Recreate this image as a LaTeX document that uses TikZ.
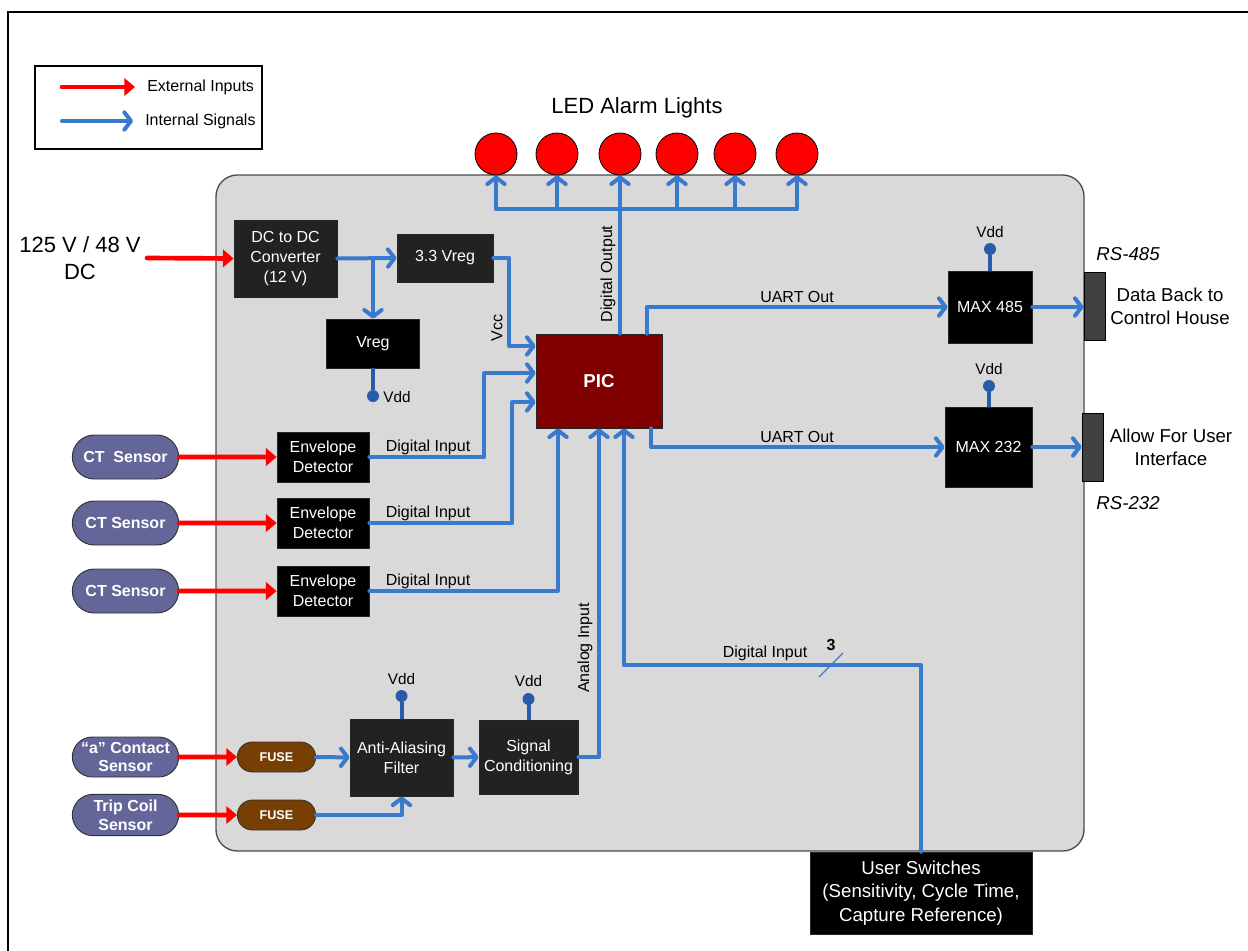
\documentclass[tikz,border=0pt]{standalone}
\usepackage{fontspec}
\setmainfont{Liberation Sans}
\usetikzlibrary{arrows.meta,calc,shapes.misc}
\definecolor{boardgray}{RGB}{217,217,217}
\definecolor{boxdark}{RGB}{34,34,34}
\definecolor{picred}{RGB}{128,0,0}
\definecolor{sensorfill}{RGB}{100,102,153}
\definecolor{fusefill}{RGB}{120,63,4}
\definecolor{conngray}{RGB}{64,64,64}
\definecolor{sigblue}{RGB}{58,122,206}
\definecolor{vddblue}{RGB}{40,92,168}
\begin{document}
\begin{tikzpicture}[x=0.75pt,y=-0.75pt,
  txt/.style={font=\fontsize{12}{14}\selectfont, inner sep=0pt},
  vddtxt/.style={font=\fontsize{11.5}{14}\selectfont, inner sep=0pt},
  box/.style={rectangle, draw=black!85, line width=0.6pt, fill=black, text=white, align=center, inner sep=1pt, font=\fontsize{12}{15}\selectfont},
  darkbox/.style={box, fill=boxdark},
  pill/.style={rounded rectangle, draw=black!80, line width=0.7pt, fill=sensorfill, text=white, font=\bfseries\fontsize{12}{14}\selectfont, align=center, inner sep=1pt, minimum width=81.75pt, minimum height=33pt},
  fusebox/.style={rounded rectangle, draw=black!80, line width=0.6pt, fill=fusefill, text=white, font=\bfseries\fontsize{9.5}{11}\selectfont, minimum width=60.75pt, minimum height=22.5pt, inner sep=1pt},
  led/.style={circle, draw=black, line width=0.6pt, fill=red, minimum size=31.5pt, inner sep=0pt},
  vdd/.style={circle, fill=vddblue, minimum size=9pt, inner sep=0pt},
  sig/.style={draw=sigblue, line width=3pt, line cap=round, line join=round, -{Straight Barb[length=5pt,width=13pt,round]}},
  ext/.style={draw=red, line width=3.5pt, line cap=round, -{Triangle[length=8pt,width=13pt]}},
  vddwire/.style={draw=vddblue, line width=3pt},
  connbox/.style={rectangle, draw=black, fill=conngray, line width=0.6pt, minimum width=15.75pt, minimum height=51pt, inner sep=0pt}
]
\useasboundingbox (0,0) rectangle (1248,950);
\fill[white] (0,0) rectangle (1248,950);
% outer frame
\draw[line width=1.5pt] (8,955) -- (8,12) -- (1255,12);
% legend
\node[draw=black, line width=1.2pt, minimum width=170.25pt, minimum height=62.25pt, inner sep=0pt] (legend) at (148.5,107.5) {};
\coordinate (lr1) at (62,87); \coordinate (lr2) at (135,87);
\draw[ext] (lr1) -- (lr2);
\node[txt, anchor=west] (lext) at (147,87) {External Inputs};
\coordinate (lb1) at (62,121); \coordinate (lb2) at (133,121);
\draw[sig] (lb1) -- (lb2);
\node[txt, anchor=west] (lint) at (145,121) {Internal Signals};
% board
\path[fill=boardgray, draw=black!70, line width=1pt, rounded corners=16pt] (216,175) rectangle (1084,851);
% LEDs
\node[font=\fontsize{16.5}{20}\selectfont] (ledt) at (637,108) {LED Alarm Lights};
\foreach \i/\x in {1/496,2/557,3/620,4/677,5/735,6/797} \node[led] (led\i) at (\x,154) {};
% boxes
\node[box, fill=picred, font=\bfseries\fontsize{14}{16}\selectfont, minimum width=94.5pt, minimum height=70.5pt] (pic) at (599,381) {PIC};
\node[darkbox, minimum width=77.25pt, minimum height=57.75pt] (dcdc) at (285.5,258.5) {DC to DC\\Converter\\(12 V)};
\node[darkbox, minimum width=72pt, minimum height=36pt] (v33) at (445,258) {3.3 Vreg};
\node[box, minimum width=69.75pt, minimum height=36.75pt] (vreg) at (373,343.5) {Vreg};
\node[box, minimum width=63pt, minimum height=54pt] (m485) at (990,307) {MAX 485};
\node[box, minimum width=65.25pt, minimum height=60pt] (m232) at (988.5,447) {MAX 232};
\node[connbox] (c485) at (1094.5,306) {};
\node[connbox] (c232) at (1092.5,447) {};
\node[box, minimum width=69pt, minimum height=37.5pt] (env1) at (323,457) {Envelope\\Detector};
\node[box, minimum width=69pt, minimum height=37.5pt] (env2) at (323,523) {Envelope\\Detector};
\node[box, minimum width=69pt, minimum height=37.5pt] (env3) at (323,591) {Envelope\\Detector};
\node[pill] (ct1) at (125.5,457) {CT\ \ Sensor};
\node[pill] (ct2) at (125.5,523) {CT Sensor};
\node[pill] (ct3) at (125.5,591) {CT Sensor};
\node[pill, minimum height=30pt] (asens) at (125.5,757) {“a” Contact\\Sensor};
\node[pill, minimum height=31pt] (tsens) at (125.5,815) {Trip Coil\\Sensor};
\node[fusebox] (fuse1) at (276.5,757) {FUSE};
\node[fusebox] (fuse2) at (276.5,815) {FUSE};
\node[darkbox, minimum width=77.25pt, minimum height=57.75pt] (aaf) at (401.5,757.5) {Anti-Aliasing\\Filter};
\node[darkbox, minimum width=74.25pt, minimum height=55.5pt] (sc) at (528.5,757) {Signal\\Conditioning};
\node[box, font=\fontsize{14}{17.5}\selectfont, minimum width=166.5pt, minimum height=61.5pt] (usw) at (921,893) {User Switches\\(Sensitivity, Cycle Time,\\Capture Reference)};
% side texts
\node[font=\fontsize{16.5}{20}\selectfont, align=center, inner sep=0pt] (pwr) at (80,258) {125 V / 48 V\\DC};
\node[font=\fontsize{14}{17}\selectfont, align=center, inner sep=0pt] (dbtext) at (1170,306) {Data Back to\\Control House};
\node[font=\fontsize{14}{17}\selectfont, align=center, inner sep=0pt] (uitext) at (1171,447) {Allow For User\\Interface};
\node[font=\itshape\fontsize{14}{17}\selectfont, inner sep=0pt] (rs485) at (1128,254) {RS-485};
\node[font=\itshape\fontsize{14}{17}\selectfont, inner sep=0pt] (rs232) at (1128,503) {RS-232};
% Vdd
\node[vdd] (vd1) at (373,396) {};
\draw[vddwire] (vreg.south) -- (vd1);
\node[vddtxt, anchor=west] (vd1t) at (383,397) {Vdd};
\node[vdd] (vd2) at (990,249) {};
\draw[vddwire] (m485.north) -- (vd2);
\node[vddtxt] (vd2t) at (990,232) {Vdd};
\node[vdd] (vd3) at (989,386) {};
\draw[vddwire] (m232.north -| vd3) -- (vd3);
\node[vddtxt] (vd3t) at (989,369) {Vdd};
\node[vdd] (vd4) at (401.5,696) {};
\draw[vddwire] (aaf.north) -- (vd4);
\node[vddtxt] (vd4t) at (401.5,679) {Vdd};
\node[vdd] (vd5) at (528.5,699) {};
\draw[vddwire] (sc.north) -- (vd5);
\node[vddtxt] (vd5t) at (528.5,681) {Vdd};
% external inputs
\coordinate (pwrout) at (147,258);
\draw[ext] (pwrout) -- (dcdc.west);
\draw[ext] (ct1) -- (env1);
\draw[ext] (ct2) -- (env2);
\draw[ext] (ct3) -- (env3);
\draw[ext] (asens) -- (fuse1);
\draw[ext] (tsens) -- (fuse2);
% LED bus
\coordinate (bus) at (620,209);
\draw[sig] (pic.north -| led3.south) -- (led3.south);
\foreach \i in {1,2,4,5,6} \draw[sig] (bus) -| (led\i.south);
\node[txt, rotate=90] (dout) at (608,274) {Digital Output};
% power
\draw[sig] (dcdc.east) -- (v33.west);
\draw[sig] (dcdc.east -| vreg.north) -- (vreg.north);
\draw[sig] (v33.east) -- ++(16,0) |- ($(pic.west)+(0,-35)$);
\node[txt, rotate=90] (vcc) at (497,328) {Vcc};
% digital inputs
\draw[sig] (env1.east) -- ++(115,0) |- ($(pic.west)+(0,-8)$);
\draw[sig] (env2.east) -- ++(143,0) |- ($(pic.west)+(0,21)$);
\draw[sig] (env3.east) -| ($(pic.south)+(-41,0)$);
\node[txt] (di1) at (428,447) {Digital Input};
\node[txt] (di2) at (428,513) {Digital Input};
\node[txt] (di3) at (428,581) {Digital Input};
% analog chain
\draw[sig] (fuse1) -- (aaf);
\draw[sig] (fuse2.east) -| (aaf.south);
\draw[sig] (aaf) -- (sc);
\draw[sig] (sc.east) -| (pic.south);
\node[txt, rotate=90] (ain) at (585,648) {Analog Input};
% user switches
\draw[sig] (usw.north) |- ($(pic.south)+(25,237)$) -- ($(pic.south)+(25,0)$);
\node[txt] (di4) at (765,653) {Digital Input};
\draw[sigblue, line width=1pt] (819,677) -- (843,653);
\node[font=\bfseries\fontsize{12}{14}\selectfont, inner sep=0pt] (n3) at (831,645) {3};
% UART
\draw[sig] ($(pic.north)+(48,0)$) |- (m485.west);
\draw[sig] ($(pic.south)+(52,0)$) |- (m232.west);
\node[txt] (u1) at (797,297) {UART Out};
\node[txt] (u2) at (797,437) {UART Out};
\draw[sig] (m485.east) -- (m485.east -| c485.west);
\draw[sig] (m232.east) -- (m232.east -| c232.west);
\end{tikzpicture}
\end{document}
